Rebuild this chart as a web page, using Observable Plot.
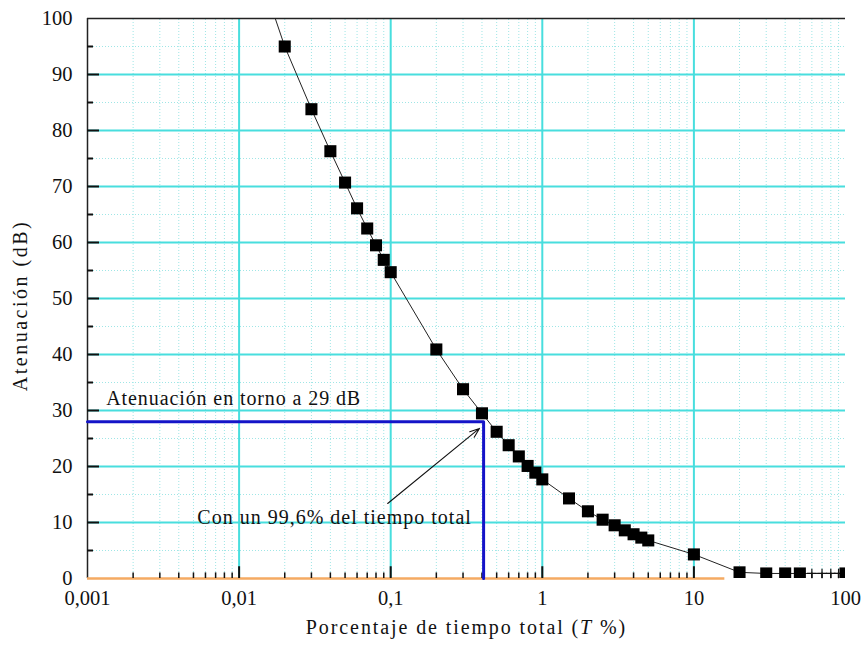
<!DOCTYPE html>
<html>
<head>
<meta charset="utf-8">
<script src="https://cdn.jsdelivr.net/npm/d3@7"></script>
<script src="https://cdn.jsdelivr.net/npm/@observablehq/plot@0.6"></script>
<style>
  html, body { margin: 0; padding: 0; background: #fff; }
  svg { display: block; }
</style>
</head>
<body>
<div id="chart"></div>
<script>
// ---- data ----
const pct = [0.02,0.03,0.04,0.05,0.06,0.07,0.08,0.09,0.1,0.2,0.3,0.4,0.5,0.6,0.7,0.8,0.9,1,1.5,2,2.5,3,3.5,4,4.5,5,10,20,30,40,50,100];
const att = [95,83.8,76.3,70.7,66.1,62.5,59.5,56.9,54.7,40.9,33.8,29.5,26.2,23.8,21.8,20.1,18.9,17.7,14.3,12.0,10.5,9.5,8.6,7.9,7.3,6.8,4.3,1.1,0.9,0.9,0.9,0.9];
// curve (enters from above the frame, ends at the right edge)
const curvePct = [0.015,0.02,0.03,0.04,0.05,0.06,0.07,0.08,0.09,0.1,0.2,0.3,0.4,0.5,0.6,0.7,0.8,0.9,1,1.5,2,2.5,3,3.5,4,4.5,5,10,20,30,40,50,60,70,80,90,100];
const curveAtt = [105,95,83.8,76.3,70.7,66.1,62.5,59.5,56.9,54.7,40.9,33.8,29.5,26.2,23.8,21.8,20.1,18.9,17.7,14.3,12.0,10.5,9.5,8.6,7.9,7.3,6.8,4.3,1.1,0.9,0.9,0.9,0.9,0.9,0.9,0.9,0.9];
const plusPct = [60,70,80,90];
const plusAtt = [0.9,0.9,0.9,0.9];

const xMajor = [0.001,0.01,0.1,1,10,100];
const xTickLabels = ["0,001","0,01","0,1","1","10","100"];
const yMajor = [0,10,20,30,40,50,60,70,80,90,100];
const yMinor = [5,15,25,35,45,55,65,75,85,95];
const xMinorMult = [2,3,4,5,6,7,8,9];

// reference marking
const markPct = [0.001,0.41,0.41];
const markAtt = [28,28,0];
const orangeEnd = 16;
const arrowFrom = {x: 0.0955, y: 13.4};
const arrowTo = {x: 0.385, y: 26.8};

const yTitle = "Atenuación (dB)";
const xTitleParts = ["Porcentaje de tiempo total (", "T", " %)"];
const note1 = {text: "Atenuación en torno a 29 dB", x: 0.00133, y: 32.1};
const note2 = {text: "Con un 99,6% del tiempo total", x: 0.0053, y: 10.9};

// ---- derived tables ----
const pts = pct.map((x, i) => ({x, y: att[i]}));
const curve = curvePct.map((x, i) => ({x, y: curveAtt[i]}));
const plus = plusPct.map((x, i) => ({x, y: plusAtt[i]}));
const mark = markPct.map((x, i) => ({x, y: markAtt[i]}));
const xMinor = xMajor.slice(0, -1).flatMap(d => xMinorMult.map(m => d * m));
const xInner = xMajor.slice(1, -1);
const yInner = yMajor.slice(1, -1);
const xTitle = xTitleParts.join("");

const font = "Liberation Serif";
const fmtX = d => xTickLabels[xMajor.findIndex(v => Math.abs(v - d) / v < 1e-6)];

const chart = Plot.plot({
  width: 861,
  height: 652,
  marginLeft: 87,
  marginRight: 16,
  marginTop: 18,
  marginBottom: 74,
  style: {fontFamily: font, fontSize: "20px", background: "#fff", color: "#111"},
  x: {type: "log", domain: [0.001, 100]},
  y: {domain: [0, 100]},
  marks: [
    // minor dotted grid
    Plot.ruleX(xMinor, {y1: 0, y2: 100, stroke: "#9fe6e6", strokeWidth: 1, strokeDasharray: "1,2"}),
    Plot.ruleY(yMinor, {x1: 0.001, x2: 100, stroke: "#9fe6e6", strokeWidth: 1, strokeDasharray: "1,2"}),
    // major grid
    Plot.ruleX(xInner, {y1: 0, y2: 100, stroke: "#48dede", strokeWidth: 2}),
    Plot.ruleY(yInner, {x1: 0.001, x2: 100, stroke: "#48dede", strokeWidth: 2}),
    // frame: top and left in black, bottom orange line
    Plot.ruleY([100], {x1: 0.001, x2: 100, stroke: "#222", strokeWidth: 1.5}),
    Plot.ruleX([0.001], {y1: 0, y2: 100, stroke: "#222", strokeWidth: 1.5}),
    Plot.ruleY([0], {x1: 0.001, x2: orangeEnd, stroke: "#f5aa62", strokeWidth: 2.5}),
    // inward ticks
    Plot.ruleY(yInner, {x1: 0.001, x2: 0.0012, stroke: "#111", strokeWidth: 2}),
    Plot.ruleY(yMinor, {x1: 0.001, x2: 0.001095, stroke: "#111", strokeWidth: 2}),
    Plot.ruleX(xInner, {y1: 0, y2: 2.1, stroke: "#111", strokeWidth: 2}),
    Plot.ruleX(xMinor, {y1: 0, y2: 1.0, stroke: "#111", strokeWidth: 1.5}),
    // blue marking
    Plot.line(mark, {x: "x", y: "y", stroke: "#1414c8", strokeWidth: 3, curve: "linear"}),
    // data curve
    Plot.line(curve, {x: "x", y: "y", stroke: "#222", strokeWidth: 1, clip: true}),
    Plot.dot(plus, {x: "x", y: "y", symbol: "plus", r: 3.2, stroke: "#111", strokeWidth: 1.2}),
    Plot.dot(pts, {x: "x", y: "y", symbol: "square", r: 6.8, fill: "#000", stroke: "none", clip: true}),
    // annotations
    Plot.arrow([{}], {x1: () => arrowFrom.x, y1: () => arrowFrom.y, x2: () => arrowTo.x, y2: () => arrowTo.y, stroke: "#111", strokeWidth: 1.1, headLength: 14, headAngle: 40, ariaLabel: "note-arrow"}),
    Plot.text([note1], {x: "x", y: "y", text: "text", textAnchor: "start", fontSize: 20, fontFamily: font, fill: "#111"}),
    Plot.text([note2], {x: "x", y: "y", text: "text", textAnchor: "start", fontSize: 20, fontFamily: font, fill: "#111"}),
    // axes
    Plot.axisX(xMajor, {tickSize: 0, tickPadding: 12, tickFormat: fmtX, label: null, fontSize: 20.5, fontFamily: font}),
    Plot.axisY(yMajor, {tickSize: 0, tickPadding: 15, label: null, fontSize: 20.5, fontFamily: font}),
    Plot.text([yTitle], {frameAnchor: "left", textAnchor: "middle", rotate: -90, dx: -67, dy: 7, fontSize: 20, fontFamily: font, fill: "#111"}),
    Plot.text([xTitle], {frameAnchor: "bottom", dy: 55, fontSize: 20, fontFamily: font, fill: "#111"})
  ]
});

const svg = d3.select(chart);
// letter spacing as in the reference, and italic T in the x-axis title (kept as real text)
const spacing = new Map([[note1.text, 0.9], [note2.text, 1.0], [yTitle, 2.5], [xTitle, 1.9]]);
svg.selectAll("text").each(function () {
  const s = spacing.get(this.textContent);
  if (s != null) d3.select(this).style("letter-spacing", s + "px");
});
svg.selectAll("text")
  .filter(function () { return this.textContent === xTitle; })
  .each(function () {
    const t = d3.select(this);
    t.text(null);
    xTitleParts.forEach((p, i) => {
      const s = t.append("tspan").text(p);
      if (i === 1) s.attr("font-style", "italic");
    });
  });
// fill the arrow head (built from the arrow path Plot drew)
svg.selectAll("g[aria-label='note-arrow'] path").each(function () {
  const n = (this.getAttribute("d").match(/-?\d+(\.\d+)?(e-?\d+)?/g) || []).map(Number);
  if (n.length >= 10) {
    const [hx1, hy1, tx, ty, hx2, hy2] = n.slice(n.length - 6);
    d3.select(this.parentNode).append("path")
      .attr("d", `M${hx1},${hy1}L${tx},${ty}L${hx2},${hy2}Z`)
      .attr("fill", "#111").attr("stroke", "#111");
  }
});

document.getElementById("chart").appendChild(chart);
</script>
</body>
</html>
